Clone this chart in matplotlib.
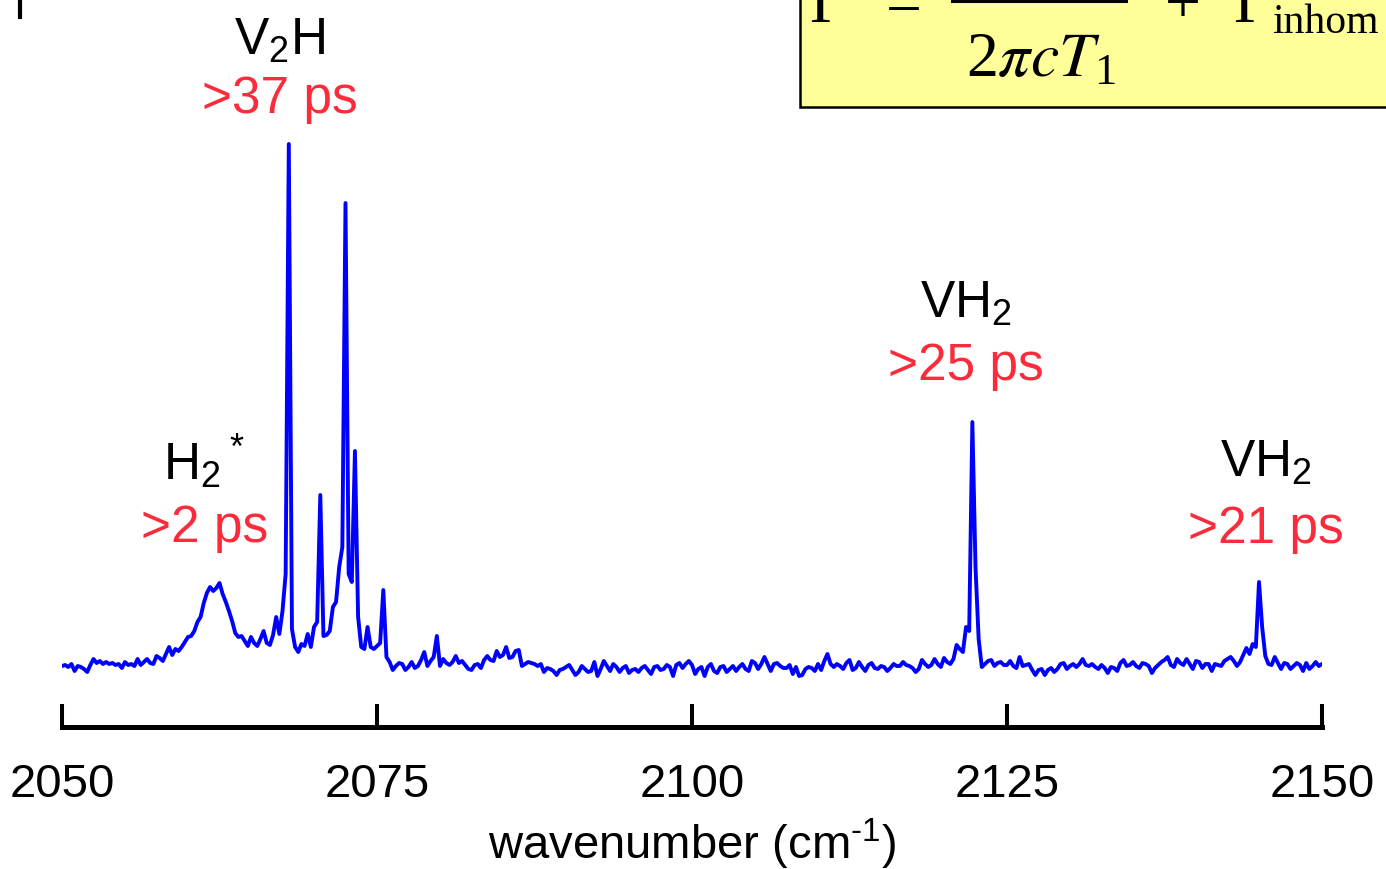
import numpy as np
import matplotlib
matplotlib.use("Agg")
import matplotlib.pyplot as plt
from matplotlib.lines import Line2D
from matplotlib.patches import Rectangle

plt.rcParams['font.family'] = ['Liberation Sans', 'DejaVu Sans']
plt.rcParams['mathtext.default'] = 'regular'

# IR absorption, 2050-2150 cm-1 in 0.25 cm-1 steps (arb. units)
absorbance = [
    0.1, 0.2, 0.0, 0.3, -0.4, 0.1, 0.0, -0.2, -0.5, 0.2, 0.8, 0.4, 0.6, 0.3, 0.5, 0.3, 0.4, 0.2, 0.3, -0.1,
    0.5, 0.2, 0.3, 0.1, 0.8, 0.2, 0.5, 0.8, 0.4, 0.3, 1.1, 0.9, 0.6, 1.3, 2.0, 1.2, 1.8, 1.6, 2.0, 2.5,
    3.0, 3.1, 3.6, 4.5, 5.0, 6.4, 7.4, 8.0, 7.6, 7.9, 8.4, 7.3, 6.5, 5.6, 4.6, 3.4, 3.0, 3.1, 2.6, 2.1,
    3.0, 2.4, 2.1, 2.8, 3.6, 2.4, 2.2, 3.2, 5.0, 3.3, 5.6, 9.3, 52.3, 3.8, 2.0, 1.5, 2.3, 2.1, 3.3, 2.0,
    4.0, 4.5, 17.2, 3.1, 3.2, 3.6, 6.0, 6.5, 10.0, 12.0, 46.4, 9.3, 8.5, 21.6, 5.0, 2.0, 1.8, 4.0, 2.0, 1.8,
    2.1, 2.4, 7.7, 1.0, 0.5, -0.3, 0.1, 0.4, 0.3, -0.3, 0.0, 0.5, -0.1, 0.1, 0.7, 1.5, 0.1, 0.6, 1.0, 3.1,
    0.1, 0.8, 0.4, 0.2, 0.5, 1.1, 0.4, 0.6, 0.2, -0.2, -0.3, 0.2, 0.3, -0.1, 0.7, 1.1, 0.7, 0.6, 1.6, 1.0,
    1.2, 2.0, 0.9, 1.0, 1.6, 1.7, 0.1, 0.3, 0.5, 0.4, 0.3, 0.1, 0.3, -0.5, -0.1, -0.2, -0.4, -0.8, -0.3, -0.2,
    0.0, 0.2, -0.3, -0.8, -0.5, 0.1, -0.2, -0.5, -0.4, 0.5, -0.9, -0.2, 0.6, 0.1, -0.4, 0.3, 0.0, -0.5, -0.1, 0.1,
    -0.6, -0.3, -0.2, -0.5, -0.1, 0.1, -0.3, -0.7, 0.0, 0.1, -0.3, -0.2, 0.2, 0.0, -0.9, 0.2, 0.4, -0.1, 0.3, 0.6,
    0.2, -0.7, -0.2, 0.0, -0.9, 0.0, 0.3, -0.4, -0.6, 0.0, 0.1, -0.5, -0.2, 0.1, -0.4, 0.0, 0.3, -0.2, -0.4, 0.6,
    0.4, -0.2, 0.3, 1.0, 0.3, -0.4, 0.3, 0.4, 0.1, -0.1, -0.1, 0.2, -0.7, 0.0, -0.9, -0.8, -0.2, 0.0, -0.1, -0.4,
    0.3, -0.3, 0.6, 1.3, 0.3, 0.0, 0.3, 0.1, -0.2, 0.4, 0.7, -0.3, -0.1, 0.5, 0.0, -0.4, 0.2, 0.4, -0.1, -0.2,
    0.1, 0.0, -0.4, -0.1, 0.3, 0.1, 0.1, 0.5, 0.2, 0.1, -0.1, -0.5, -0.2, 0.7, 0.3, 0.0, 0.2, 0.8, 0.3, 0.0,
    0.9, 0.5, 0.3, 0.8, 2.2, 1.8, 1.5, 4.0, 3.6, 24.5, 10.0, 2.8, 0.0, 0.3, 0.6, 0.7, 0.1, 0.4, 0.5, 0.2,
    0.2, 0.6, 0.1, -0.1, 1.0, 0.1, 0.2, 0.3, -0.3, -0.8, -0.3, -0.2, -0.8, -0.3, -0.1, -0.5, -0.2, 0.3, 0.4, -0.2,
    0.1, 0.3, 0.0, 0.3, 0.8, 0.2, 0.1, 0.3, 0.0, -0.2, 0.2, -0.1, -0.6, 0.0, -0.1, -0.4, 0.4, 0.7, 0.1, 0.2,
    0.5, 0.1, -0.1, 0.4, 0.3, 0.1, -0.6, -0.1, 0.2, 0.5, 0.7, 1.0, 0.2, 0.0, 0.8, 0.4, 0.2, 0.8, 0.3, -0.2,
    0.6, 0.5, -0.1, 0.3, 0.3, -0.4, 0.3, 0.2, 0.1, 0.6, 0.8, 1.0, 0.6, 0.1, 0.5, 1.2, 1.9, 1.3, 2.3, 2.0,
    8.5, 4.0, 1.1, 0.3, 0.2, 1.0, 0.4, -0.2, 0.4, 0.3, -0.2, 0.1, 0.4, 0.2, -0.4, 0.4, -0.2, 0.1, 0.5, 0.1,
    0.3,
]
wavenumber = np.linspace(2050, 2150, len(absorbance))

xticks = [2050, 2075, 2100, 2125, 2150]

# peak assignments and T1 lower bounds
species = ['H$_2{}^*$', 'V$_2$H', 'VH$_2$', 'VH$_2$']
lifetimes = ['>2 ps', '>37 ps', '>25 ps', '>21 ps']
label_x = [2061.3, 2067.3, 2121.75, 2145.55]
species_y = [18.8, 61.3, 35.0, 19.1]
lifetime_y = [12.6, 55.5, 28.8, 12.5]

W, H = 1386, 870
fig = plt.figure(figsize=(W / 100, H / 100), dpi=100)
ax = fig.add_axes([62 / W, 142 / H, 1260 / W, 728 / H])
ax.patch.set_visible(False)

ax.plot(wavenumber, absorbance, color='#0000ff', lw=2.8)

ax.set_xlim(2050, 2150)
ax.set_ylim(-6.0, 66.8)
for s in ['left', 'right', 'top']:
    ax.spines[s].set_visible(False)
ax.spines['bottom'].set_linewidth(3.6)
ax.set_yticks([])
ax.set_xticks(xticks)
ax.tick_params(axis='x', direction='in', length=16.5, width=2.9, pad=25, labelsize=34)
ax.set_xlabel('wavenumber (cm$^{\u20101}$)', fontsize=34, labelpad=7)

red = '#fa2c3c'
for x, name, ny, life, ly in zip(label_x, species, species_y, lifetimes, lifetime_y):
    ax.text(x, ny, name, ha='center', va='baseline', fontsize=37, color='black')
    ax.text(x, ly, life, ha='center', va='baseline', fontsize=37, color=red)


def fp(x, y):
    # pixel position -> figure fraction
    return x / W, 1 - y / H


# linewidth formula box in the top right corner
box = Rectangle(fp(800, 108), 700 / W, 200 / H, transform=fig.transFigure,
                facecolor='#ffff99', edgecolor='black', lw=1.8)
fig.add_artist(box)

serif = dict(family='Liberation Serif', math_fontfamily='stix', va='baseline', ha='left')
fig.text(*fp(809, 22), r'$\Gamma$', fontsize=46, **serif)
fig.text(*fp(886, 23), '=', fontsize=46, **serif)
fig.add_artist(Line2D([952 / W, 1126 / W], [1 - 2 / H, 1 - 2 / H],
                      transform=fig.transFigure, color='black', lw=2.2))
fig.text(*fp(966, 76), r'2$\mathit{\pi cT}_1$', fontsize=46, **serif)
fig.text(*fp(1165, 23), '+', fontsize=46, **serif)
fig.text(*fp(1233, 22), r'$\Gamma$', fontsize=46, **serif)
fig.text(*fp(1272, 33), 'inhom', fontsize=30, **serif)

# stray tick at the top left edge
fig.add_artist(Line2D([20 / W, 20 / W], [1, 1 - 18 / H], transform=fig.transFigure,
                      color='black', lw=3))

fig.savefig('out.png', dpi=100)
